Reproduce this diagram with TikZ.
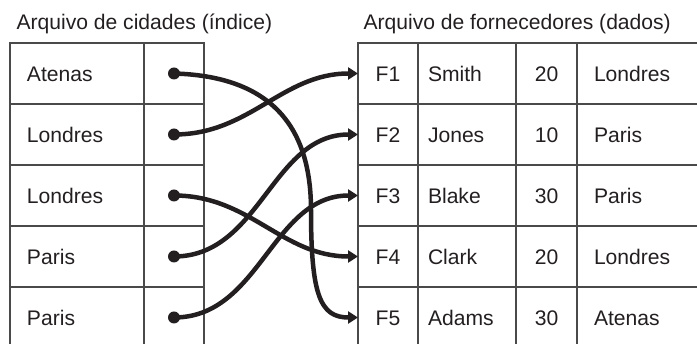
\documentclass[tikz,border=0pt]{standalone}
\usepackage{fontspec}
\setmainfont{Liberation Sans}
\usetikzlibrary{arrows.meta,positioning}
\definecolor{ink}{HTML}{231F20}
\definecolor{rule}{HTML}{4A4A4A}
\tikzset{
  cell/.style={draw=rule, line width=1.5pt, minimum height=61pt, inner sep=0pt, outer sep=0pt,
    text=ink, text height=15.3pt, text depth=0pt},
  keycell/.style={cell, minimum width=134pt, text width=100pt, align=left},
  ptrcell/.style={cell, minimum width=60pt},
  dot/.style={circle, fill=ink, minimum size=12pt, inner sep=0pt},
  link/.style={line width=4.5pt, draw=ink, -{Triangle[length=10pt,width=12pt]}},
}
\begin{document}
\begin{tikzpicture}[x=1pt, y=-1pt, font=\fontsize{21.1}{25}\selectfont]
    \clip (0,0) rectangle (697,344);
    \node[anchor=base west, text=ink] (tidx) at (13,29.5) {Arquivo de cidades (índice)};
    \node[anchor=base west, text=ink] (tdat) at (360,29.5) {Arquivo de fornecedores (dados)};
    % indice
    \foreach \i/\cid in {1/Atenas,2/Londres,3/Londres,4/Paris,5/Paris} {
      \node[keycell] (key\i) at (77,{12.5+61*\i}) {\cid};
      \node[ptrcell] (ptr\i) at (174,{12.5+61*\i}) {};
      \node[dot] (dot\i) at (ptr\i.center) {};
    }
    % dados
    \foreach \i/\nome/\st/\cid in {1/Smith/20/Londres,2/Jones/10/Paris,3/Blake/30/Paris,4/Clark/20/Londres,5/Adams/30/Atenas} {
      \node[cell, minimum width=60pt] (fid\i) at (388,{12.5+61*\i}) {F\i};
      \node[cell, minimum width=98pt, text width=78pt, align=left] (fnome\i) at (467,{12.5+61*\i}) {\nome};
      \node[cell, minimum width=61pt] (fst\i) at (546.5,{12.5+61*\i}) {\st};
      \node[cell, minimum width=143pt, text width=109pt, align=left] (fcid\i) at (648.5,{12.5+61*\i}) {\cid};
    }
    % ponteiros
    \coordinate (desce) at (311,210);
    \draw[link] (dot1.center) .. controls +(105,3) and +(0,-75) .. (desce)
      .. controls +(0,85) and +(-38,0) .. (fid5.west);
    \draw[link] (dot2.center) to[out=0,in=180] (fid1.west);
    \draw[link] (dot3.center) to[out=0,in=180] (fid4.west);
    \draw[link] (dot4.center) to[out=0,in=180] (fid2.west);
    \draw[link] (dot5.center) to[out=0,in=180] (fid3.west);
\end{tikzpicture}
\end{document}
